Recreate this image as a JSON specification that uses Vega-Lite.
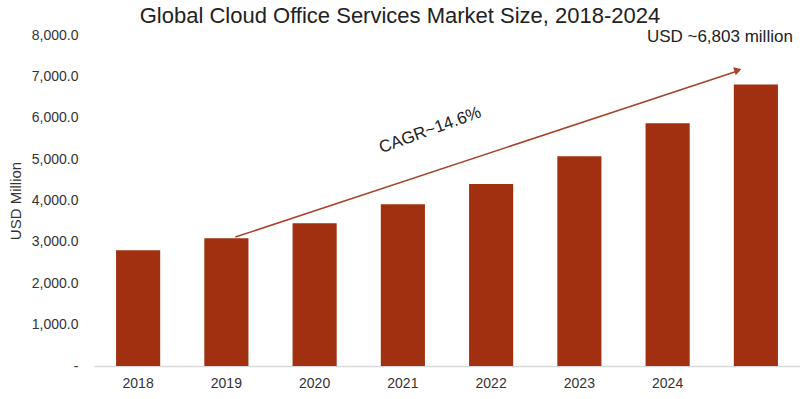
{
  "$schema": "https://vega.github.io/schema/vega-lite/v6.json",
  "width": 706,
  "height": 331,
  "autosize": {"type": "none"},
  "padding": {"left": 94, "top": 35, "right": 0, "bottom": 33},
  "background": "white",
  "title": {
    "text": "Global Cloud Office Services Market Size, 2018-2024",
    "anchor": "middle",
    "frame": "group",
    "dx": -47,
    "offset": 0,
    "font": "Liberation Sans",
    "fontSize": 22,
    "fontWeight": "normal",
    "color": "#222222"
  },
  "config": {
    "view": {"stroke": null},
    "font": "Liberation Sans"
  },
  "datasets": {
    "bars": [
      {"year": "2018", "value": 2800},
      {"year": "2019", "value": 3090},
      {"year": "2020", "value": 3450},
      {"year": "2021", "value": 3910},
      {"year": "2022", "value": 4400},
      {"year": "2023", "value": 5070},
      {"year": "2024", "value": 5870},
      {"year": "2025", "value": 6803}
    ],
    "arrow": [
      {"from": "2019", "to": "2025", "v1": 3116, "v2": 7150}
    ],
    "notes": [
      {"year": "2021", "value": 5460, "label": "CAGR~14.6%"},
      {"year": "2025", "value": 7950, "label": "USD ~6,803 million"}
    ]
  },
  "encoding": {
    "x": {
      "field": "year",
      "type": "ordinal",
      "scale": {"domain": ["2018","2019","2020","2021","2022","2023","2024","2025"], "paddingInner": 0.5, "paddingOuter": 0.25},
      "axis": {
        "title": null,
        "labelAngle": 0,
        "labelExpr": "datum.value == '2025' ? '' : datum.value",
        "ticks": false,
        "domainColor": "#d9d9d9",
        "domainWidth": 1.5,
        "labelFont": "Liberation Sans",
        "labelFontSize": 14,
        "labelColor": "#333333",
        "labelPadding": 10,
        "grid": false
      }
    }
  },
  "layer": [
    {
      "data": {"name": "bars"},
      "mark": {"type": "bar", "color": "#a0300f"},
      "encoding": {
        "y": {
          "field": "value",
          "type": "quantitative",
          "scale": {"domain": [0, 8000], "nice": false},
          "axis": {
            "title": "USD Million",
            "titleFont": "Liberation Sans",
            "titleFontSize": 15,
            "titleFontWeight": "normal",
            "titleColor": "#333333",
            "titlePadding": 8,
            "values": [0,1000,2000,3000,4000,5000,6000,7000,8000],
            "labelOverlap": false,
            "labelExpr": "datum.value == 0 ? '-' : format(datum.value, ',.1f')",
            "labelFont": "Liberation Sans",
            "labelFontSize": 14,
            "labelColor": "#333333",
            "labelPadding": 16,
            "ticks": false,
            "domain": false,
            "grid": false
          }
        }
      }
    },
    {
      "data": {"name": "arrow"},
      "mark": {"type": "rule", "color": "#a8432a", "strokeWidth": 1.5, "xOffset": 9, "x2Offset": -16},
      "encoding": {
        "x": {"field": "from", "type": "ordinal"},
        "x2": {"field": "to"},
        "y": {"field": "v1", "type": "quantitative"},
        "y2": {"field": "v2"}
      }
    },
    {
      "data": {"name": "arrow"},
      "mark": {"type": "point", "shape": "triangle-right", "filled": true, "color": "#a8432a", "opacity": 1, "size": 70, "angle": -18, "xOffset": -18},
      "encoding": {
        "x": {"field": "to", "type": "ordinal"},
        "y": {"field": "v2", "type": "quantitative"}
      }
    },
    {
      "data": {"name": "notes"},
      "transform": [{"filter": "datum.label == 'CAGR~14.6%'"}],
      "mark": {"type": "text", "font": "Liberation Sans", "fontSize": 17, "color": "#222222", "angle": -20, "dx": 29, "align": "center", "baseline": "middle"},
      "encoding": {
        "x": {"field": "year", "type": "ordinal"},
        "y": {"field": "value", "type": "quantitative"},
        "text": {"field": "label"}
      }
    },
    {
      "data": {"name": "notes"},
      "transform": [{"filter": "datum.label != 'CAGR~14.6%'"}],
      "mark": {"type": "text", "font": "Liberation Sans", "fontSize": 17, "color": "#222222", "dx": 37, "align": "right", "baseline": "middle"},
      "encoding": {
        "x": {"field": "year", "type": "ordinal"},
        "y": {"field": "value", "type": "quantitative"},
        "text": {"field": "label"}
      }
    }
  ]
}
